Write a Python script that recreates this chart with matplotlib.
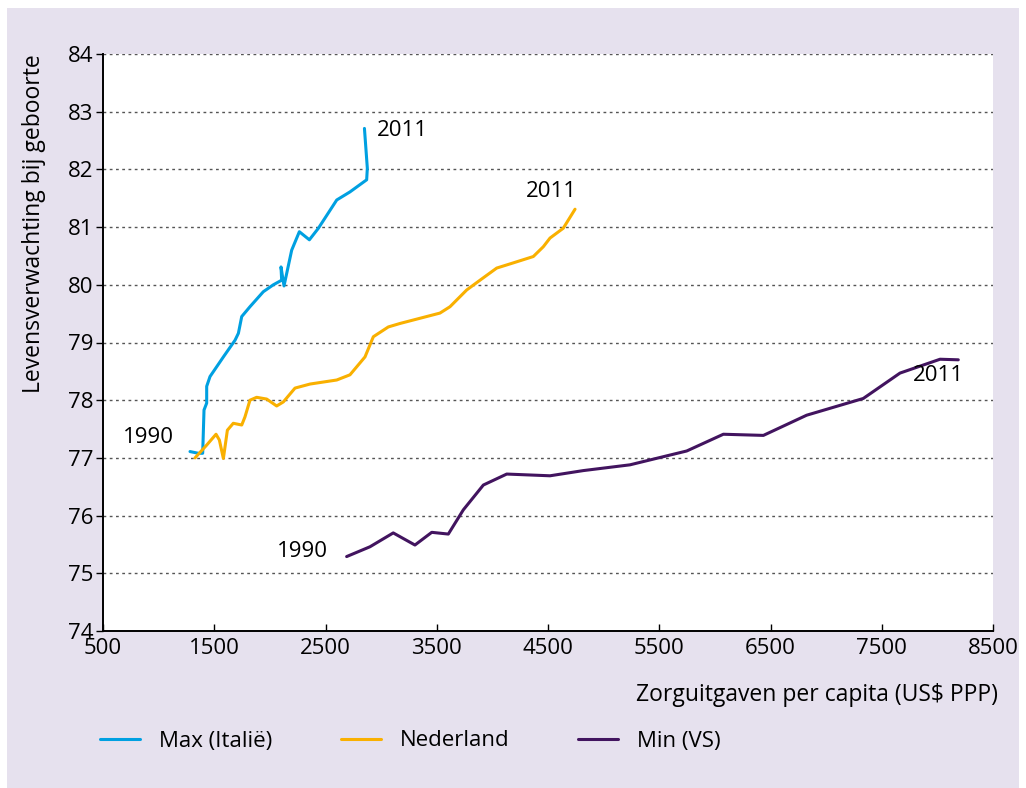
import numpy as np
import matplotlib.pyplot as plt
from matplotlib.patches import Rectangle

plt.rcParams['font.family'] = ['Open Sans', 'DejaVu Sans']

# Max (Italie): zorguitgaven vs levensverwachting
ita_x = [1282, 1357, 1396, 1408, 1432, 1432, 1462, 1582, 1687, 1717, 1747, 1821,
         1941, 2031, 2106, 2100, 2127, 2196, 2265, 2355, 2436, 2601, 2720, 2870,
         2876, 2850]
ita_y = [77.11, 77.08, 77.08, 77.83, 77.95, 78.24, 78.41, 78.75, 79.04, 79.16,
         79.45, 79.62, 79.88, 80.00, 80.08, 80.31, 79.98, 80.60, 80.92, 80.78,
         80.98, 81.47, 81.61, 81.82, 82.02, 82.71]

# Nederland
nl_x = [1327, 1431, 1516, 1546, 1582, 1618, 1671, 1747, 1776, 1821, 1881, 1971,
        2061, 2121, 2226, 2361, 2601, 2720, 2855, 2930, 3065, 3170, 3529, 3619,
        3769, 3889, 4039, 4188, 4368, 4458, 4518, 4637, 4743]
nl_y = [77.00, 77.22, 77.41, 77.31, 76.99, 77.48, 77.60, 77.57, 77.71, 78.00,
        78.05, 78.02, 77.90, 77.97, 78.21, 78.28, 78.35, 78.44, 78.75, 79.10,
        79.27, 79.33, 79.51, 79.62, 79.91, 80.08, 80.29, 80.38, 80.49, 80.66,
        80.81, 80.98, 81.31]

# Min (VS)
vs_x = [2690, 2900, 3109, 3304, 3455, 3604, 3739, 3919, 4129, 4518, 4817, 5237,
        5747, 6076, 6436, 6825, 7334, 7664, 8024, 8188]
vs_y = [75.29, 75.46, 75.70, 75.49, 75.71, 75.68, 76.10, 76.53, 76.72, 76.69,
        76.78, 76.88, 77.12, 77.41, 77.39, 77.74, 78.03, 78.47, 78.71, 78.70]

x_ticks = [500, 1500, 2500, 3500, 4500, 5500, 6500, 7500, 8500]
y_ticks = list(range(74, 85))

blauw = '#00A0E1'
oranje = '#F9B000'
paars = '#42145F'

fig = plt.figure(figsize=(10.26, 7.88), dpi=100)
fig.patch.set_facecolor('white')
fig.patches.append(Rectangle((7 / 1026, 0), 1012 / 1026, 780 / 788,
                             transform=fig.transFigure, facecolor='#E6E1EE',
                             edgecolor='none', zorder=-10))

ax = fig.add_axes([103 / 1026, 1 - 631 / 788, 890 / 1026, 577 / 788])
ax.set_facecolor('white')

stijl = dict(lw=2.2, solid_joinstyle='round', solid_capstyle='round')
ax.plot(ita_x, ita_y, color=blauw, label='Max (Italië)', **stijl)
ax.plot(nl_x, nl_y, color=oranje, label='Nederland', **stijl)
ax.plot(vs_x, vs_y, color=paars, label='Min (VS)', **stijl)

ax.set_xlim(500, 8500)
ax.set_ylim(74, 84)
ax.set_xticks(x_ticks)
ax.set_yticks(y_ticks)
ax.tick_params(axis='y', direction='out', length=5, width=1, labelsize=16, pad=2)
ax.tick_params(axis='x', direction='in', length=5, width=1, labelsize=16, pad=5)
ax.grid(axis='y', linestyle=(0, (2, 2.5)), color='#555555', lw=1)
for s in ['top', 'right']:
    ax.spines[s].set_visible(False)
for s in ['left', 'bottom']:
    ax.spines[s].set_linewidth(1.4)

ax.set_ylabel('Levensverwachting bij geboorte', fontsize=16.5, loc='top')
ax.yaxis.set_label_coords(-0.064, 1.0)
ax.set_xlabel('Zorguitgaven per capita (US$ PPP)', fontsize=16.5, loc='right')
ax.xaxis.set_label_coords(1.006, -0.09)

ax.text(2960, 82.68, '2011', fontsize=16, va='center', ha='left')
ax.text(4530, 81.62, '2011', fontsize=16, va='center', ha='center')
ax.text(680, 77.35, '1990', fontsize=16, va='center', ha='left')
ax.text(2064, 75.38, '1990', fontsize=16, va='center', ha='left')
ax.text(7780, 78.42, '2011', fontsize=16, va='center', ha='left')

fig.legend(loc='center left', bbox_to_anchor=(80 / 1026, 1 - 741 / 788), ncol=3,
           frameon=False, fontsize=16, handlelength=1.8, handletextpad=0.85,
           columnspacing=3.1)

fig.savefig('out.png', dpi=100, facecolor=fig.get_facecolor())
